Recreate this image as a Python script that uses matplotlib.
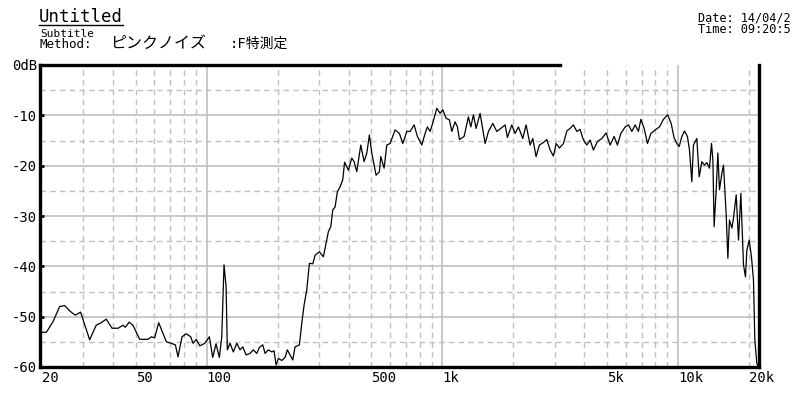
import matplotlib
matplotlib.use("Agg")
import matplotlib.pyplot as plt
from matplotlib.lines import Line2D

freq = [19.7, 20.9, 22.3, 23.8, 25.0, 26.3, 27.7, 29.2, 31.9, 34.0,
        35.7, 37.5, 39.7, 42.1, 44.2, 45.2, 46.9, 48.7, 52.0, 56.4,
        58.3, 60.2, 62.6, 67.5, 70.8, 73.7, 75.6, 78.6, 82.0, 85.6,
        87.6, 90.4, 93.5, 98.1,
        102.7, 106.1, 109.6, 113.2, 115.9, 118.5, 120.9, 122.4, 125.7, 129.8,
        134.2, 138.6, 142.3, 147.0, 152.8, 157.8, 163.2, 167.4, 173.0, 176.9,
        182.7, 188.9, 193.2, 197.0, 201.5, 208.3, 215.1, 220.0, 225.9, 231.9,
        237.2, 247.4, 253.3, 259.0, 265.9, 272.8, 282.0, 288.4, 300.7, 312.7,
        321.1, 328.4, 336.2, 342.8, 350.6, 358.5, 368.1, 377.9, 384.7, 399.2,
        412.7, 422.1, 433.3, 450.6, 465.4, 477.9, 490.2, 501.8, 523.3, 540.4,
        547.8, 565.8, 581.0, 600.0, 630.0, 657.1, 679.2, 706.3, 729.5, 758.5,
        783.3, 817.7, 844.5, 863.8, 886.8, 910.7, 946.7, 977.7,
        1004, 1037, 1071, 1096, 1132, 1158, 1181, 1236, 1289, 1320,
        1354, 1390, 1445, 1518, 1568, 1636, 1701, 1769, 1845, 1887,
        1970, 2034, 2101, 2193, 2265, 2356, 2418, 2497, 2579, 2682,
        2773, 2864, 2958, 3037, 3136, 3262, 3372, 3482, 3596, 3717,
        3839, 3964, 4099, 4233, 4372, 4546, 4746, 4949, 5146, 5351,
        5527, 5713, 5959, 6155, 6363, 6571, 6786, 6946, 7176, 7411,
        7661, 7990, 8331, 8662, 9027, 9340, 9616, 9874,
        10100, 10370, 10640, 10950, 11170, 11430, 11610, 12000, 12280, 12610,
        12930, 13240, 13580, 13850, 14040, 14210, 14500, 14740, 14970, 15330,
        15570, 15980, 16250, 16510, 16900, 17160, 17630, 18030, 18450, 18930,
        19300, 19560, 20010, 20460, 20870, 21150, 21570, 21910]

level = [-53.1, -53.1, -51.0, -48.0, -47.8, -48.9, -49.7, -49.1, -54.6, -51.7,
         -51.2, -50.5, -52.3, -52.3, -51.7, -52.1, -51.1, -51.7, -54.5, -54.5,
         -54.0, -54.2, -51.2, -55.0, -55.3, -55.6, -58.0, -54.0, -53.4, -54.0,
         -55.3, -54.5, -55.8, -55.3,
         -54.0, -58.1, -55.4, -58.1, -54.0, -39.7, -44.0, -56.6, -55.3, -57.0,
         -55.3, -56.6, -56.0, -57.6, -57.3, -56.6, -57.3, -56.1, -55.6, -57.3,
         -56.6, -57.0, -56.8, -59.6, -58.3, -58.7, -58.1, -56.6, -57.6, -58.6,
         -56.0, -55.6, -51.3, -47.7, -44.7, -39.4, -39.5, -37.8, -37.1, -38.1,
         -35.4, -33.1, -32.1, -28.8, -28.2, -25.2, -24.2, -22.8, -19.3, -20.9,
         -18.5, -19.2, -21.2, -15.9, -19.2, -17.5, -13.9, -17.5, -21.9, -21.2,
         -18.2, -20.5, -15.9, -15.6, -12.9, -13.6, -15.6, -13.2, -13.2, -11.9,
         -14.2, -15.9, -13.6, -12.3, -13.2, -11.5, -8.6, -9.6,
         -8.9, -10.6, -10.9, -13.2, -11.3, -12.3, -14.8, -14.2, -10.3, -12.3,
         -9.9, -12.6, -9.6, -15.6, -13.2, -11.6, -13.2, -12.6, -11.9, -14.4,
         -11.9, -13.6, -12.3, -14.6, -11.9, -15.9, -14.6, -18.2, -15.9, -15.4,
         -14.8, -16.9, -18.1, -15.6, -16.5, -15.6, -13.1, -12.6, -11.9, -13.2,
         -12.8, -14.9, -15.9, -14.9, -16.9, -15.2, -14.6, -13.5, -15.9, -14.2,
         -15.9, -13.6, -12.3, -11.9, -13.2, -11.9, -13.2, -10.8, -12.6, -15.6,
         -13.6, -12.9, -12.3, -10.8, -9.9, -11.6, -14.5, -15.6,
         -16.2, -14.2, -13.1, -14.2, -16.9, -23.2, -15.9, -14.6, -22.2, -19.2,
         -19.9, -19.4, -20.5, -15.6, -18.9, -32.1, -24.8, -17.5, -24.8, -21.5,
         -19.9, -29.5, -38.4, -30.8, -32.4, -30.5, -25.8, -34.8, -25.5, -39.7,
         -42.1, -36.8, -34.8, -38.1, -42.7, -54.6, -59.3, -60.0]

x_ticks = [20, 50, 100, 500, 1000, 5000, 10000, 20000]
x_labels = ["20", "50", "100", "500", "1k", "5k", "10k", "20k"]
y_ticks = [0, -10, -20, -30, -40, -50, -60]
y_labels = ["0dB", "-10", "-20", "-30", "-40", "-50", "-60"]

mono = ["DejaVu Sans Mono", "Noto Sans CJK JP"]
plt.rcParams["font.family"] = mono

fig = plt.figure(figsize=(8, 4), dpi=100)
ax = fig.add_axes([0.05, 0.0825, 0.899, 0.755])

# grid: solid every 10 dB / decade, dashed in between
grid = "#c0c0c0"
for v in [-10, -20, -30, -40, -50]:
    ax.axhline(v, color=grid, lw=1.2, zorder=1)
for v in [-5, -15, -25, -35, -45, -55]:
    ax.axhline(v, color=grid, lw=1.0, ls=(0, (4, 3)), zorder=1)
for d in [100, 1000, 10000]:
    ax.axvline(d, color=grid, lw=1.2, zorder=1)
for d in [10, 100, 1000]:
    for k in range(2, 10):
        if d * k > 20:
            ax.axvline(d * k, color=grid, lw=1.0, ls=(0, (4, 3)), zorder=1)
ax.axvline(20000, color=grid, lw=1.0, ls=(0, (4, 3)), zorder=1)

ax.plot(freq, level, color="black", lw=0.9, zorder=3)

ax.set_xscale("log")
ax.set_xlim(19.64, 22070)
ax.set_ylim(-60, 0)
ax.set_xticks(x_ticks)
ax.set_xticklabels(x_labels, ha="left")
ax.xaxis.set_minor_locator(plt.NullLocator())
ax.set_yticks(y_ticks)
ax.set_yticklabels(y_labels)
ax.tick_params(axis="x", length=0, pad=3, labelsize=10)
ax.tick_params(axis="y", direction="in", length=3, width=2, pad=2, labelsize=10)

for s in ["left", "bottom", "right", "top"]:
    ax.spines[s].set_linewidth(2.4)
    ax.spines[s].set_color("black")
ax.spines["top"].set_bounds(19.64, 3160)

# header text
title_y = 0.945
t = fig.text(0.049, title_y, "Untitled", fontsize=12.5, ha="left", va="baseline")
fig.text(0.05, 0.908, "Subtitle", fontsize=8, ha="left", va="baseline")
fig.text(0.05, 0.88, "Method:", fontsize=9, ha="left", va="baseline")
fig.text(0.137, 0.88, "ピンクノイズ", fontsize=11.5, ha="left", va="baseline")
fig.text(0.287, 0.88, ":F特測定", fontsize=10, ha="left", va="baseline")
fig.text(0.873, 0.946, "Date: 14/04/2", fontsize=8.6, ha="left", va="baseline")
fig.text(0.873, 0.917, "Time: 09:20:5", fontsize=8.6, ha="left", va="baseline")

# underline the title just under its baseline
fig.canvas.draw()
bb = t.get_window_extent().transformed(fig.transFigure.inverted())
fig.add_artist(Line2D([bb.x0, bb.x1], [title_y - 0.008, title_y - 0.008],
                      color="black", lw=1.0))

fig.savefig("out.png", dpi=100)
